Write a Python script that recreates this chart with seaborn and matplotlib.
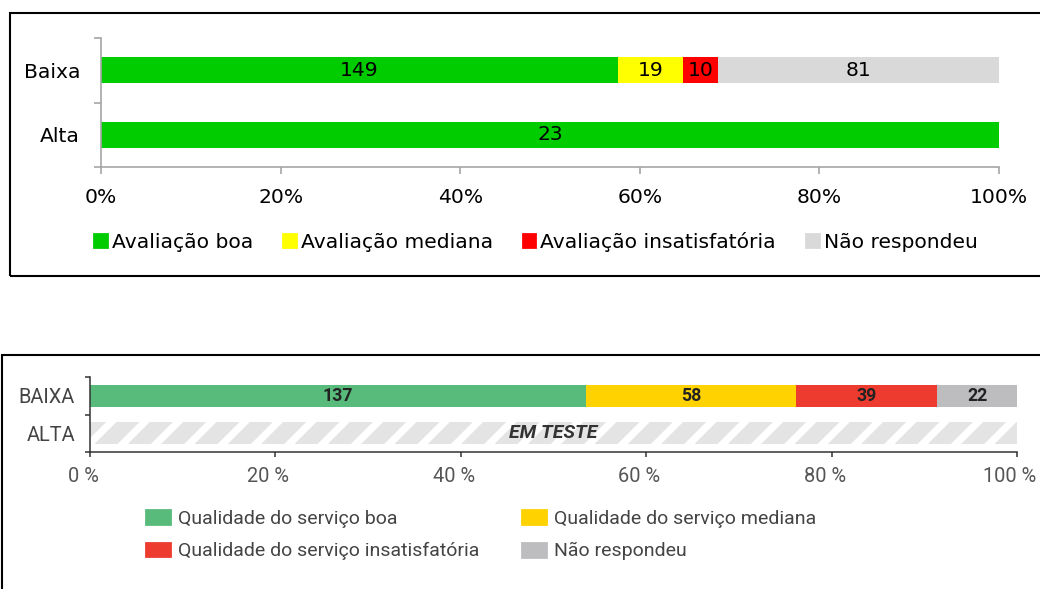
import matplotlib.pyplot as plt
import matplotlib.patches as mpatches
import matplotlib.transforms as mtransforms
from matplotlib import font_manager
import numpy as np
import pandas as pd
import seaborn as sns

# --- dados: painel de cima ---
cats_top = ["Baixa", "Alta"]
series_top = ["Avaliação boa", "Avaliação mediana", "Avaliação insatisfatória", "Não respondeu"]
baixa_top = [149, 19, 10, 81]
alta_top = [23, 0, 0, 0]
cores_top = ["#00CC00", "#FFFF00", "#FF0000", "#D9D9D9"]
ticks_top = ["0%", "20%", "40%", "60%", "80%", "100%"]

# --- dados: painel de baixo ---
cats_bot = ["BAIXA", "ALTA"]
series_bot = ["Qualidade do serviço boa", "Qualidade do serviço mediana",
              "Qualidade do serviço insatisfatória", "Não respondeu"]
baixa_bot = [137, 58, 39, 22]
alta_bot = [0, 0, 0, 0]
em_teste_pct = [0, 100]          # linha ALTA ainda "em teste"
texto_em_teste = "EM TESTE"
cores_bot = ["#58BB7B", "#FFD200", "#EE3B2F", "#BDBDC0"]
ticks_bot = ["0 %", "20 %", "40 %", "60 %", "80 %", "100 %"]
tick_pos = [0, 20, 40, 60, 80, 100]

W, H = 1040, 589

disponiveis = {f.name for f in font_manager.fontManager.ttflist}
fonte_bot = next((f for f in ["Liberation Sans Narrow", "Roboto"] if f in disponiveis), "DejaVu Sans")
fonte_top = "DejaVu Sans"

plt.rcParams["hatch.linewidth"] = 2.6


def barras_empilhadas(ax, cats, linhas, cores, altura, txt_kw):
    df = pd.DataFrame(linhas, index=cats)
    pct = df.div(df.sum(axis=1).replace(0, np.nan), axis=0) * 100
    cum = pct.cumsum(axis=1).fillna(0)
    # desenha do fim para o início para simular empilhamento
    for j in reversed(range(df.shape[1])):
        sns.barplot(x=cum[j].values, y=cats, order=cats, orient="h", color=cores[j],
                    saturation=1, width=altura, linewidth=0, errorbar=None, ax=ax)
    for i, cat in enumerate(cats):
        for j in range(df.shape[1]):
            v = df.loc[cat, j]
            if v > 0:
                ax.text(cum.loc[cat, j] - pct.loc[cat, j] / 2, i, str(v),
                        ha="center", va="center", **txt_kw)


fig = plt.figure(figsize=(W / 200, H / 200), dpi=200)

# ================= painel de cima =================
ax1 = fig.add_axes([101 / W, 1 - 167 / H, 898 / W, 129 / H])
barras_empilhadas(ax1, cats_top, [baixa_top, alta_top], cores_top, 0.40,
                  dict(fontsize=7.3, family=fonte_top, color="black"))
ax1.set_xlim(0, 100)
ax1.set_ylim(1.5, -0.5)
for s in ["top", "right"]:
    ax1.spines[s].set_visible(False)
for s in ["left", "bottom"]:
    ax1.spines[s].set_color("#A6A6A6")
    ax1.spines[s].set_linewidth(0.6)
ax1.set_xticks(tick_pos, labels=ticks_top)
ax1.set_yticks([-0.5, 0.5, 1.5], labels=["", "", ""])
ax1.set_yticks([0, 1], labels=cats_top, minor=True)
ax1.tick_params(axis="both", which="major", color="#A6A6A6", width=0.6, length=2.5,
                labelsize=7.3, labelcolor="black", pad=5)
ax1.tick_params(axis="y", which="minor", length=0, pad=7.5, labelsize=7.3)
ax1.set_xlabel("")
ax1.set_ylabel("")
for t in ax1.get_xticklabels() + ax1.get_yticklabels(minor=True):
    t.set_family(fonte_top)

h_top = [mpatches.Patch(color=c, label=s) for c, s in zip(cores_top, series_top)]
fig.legend(handles=h_top, ncol=4, loc="center", bbox_to_anchor=(536 / W, 1 - 242 / H),
           frameon=False, handlelength=0.6, handleheight=0.6, handletextpad=0.25,
           columnspacing=1.5, borderpad=0, borderaxespad=0,
           prop=dict(family=fonte_top, size=7.3))

fig.add_artist(mpatches.Rectangle((10 / W, 1 - 276 / H), 1.1, (276 - 13) / H,
                                  transform=fig.transFigure, fill=False,
                                  lw=0.75, ec="black"))

# ================= painel de baixo =================
ax2 = fig.add_axes([90 / W, 1 - 452 / H, 927 / W, 75 / H])
sns.barplot(x=em_teste_pct, y=cats_bot, order=cats_bot, orient="h", color="#E4E4E4",
            saturation=1, width=0.58, hatch="//", edgecolor="white", linewidth=0,
            errorbar=None, ax=ax2)
barras_empilhadas(ax2, cats_bot, [baixa_bot, alta_bot], cores_bot, 0.58,
                  dict(fontsize=6.4, family=fonte_bot, color="#222222", weight="bold"))
ax2.text(50, 1, texto_em_teste, ha="center", va="center", fontsize=7.0,
         family=fonte_bot, style="italic", weight="bold", color="#333333")
ax2.set_xlim(0, 100)
ax2.set_ylim(1.5, -0.5)
for s in ["top", "right"]:
    ax2.spines[s].set_visible(False)
for s in ["left", "bottom"]:
    ax2.spines[s].set_color("#333333")
    ax2.spines[s].set_linewidth(0.55)
ax2.set_xticks(tick_pos, labels=ticks_bot)
ax2.set_yticks([-0.5, 0.5, 1.5], labels=["", "", ""])
ax2.set_yticks([0, 1], labels=cats_bot, minor=True)
ax2.tick_params(axis="both", which="major", color="#333333", width=0.55, length=1.8,
                labelsize=7.2, labelcolor="#555555", pad=3.5)
ax2.tick_params(axis="y", which="minor", length=0, pad=5.4, labelsize=7.2,
                labelcolor="#444444")
ax2.set_xlabel("")
ax2.set_ylabel("")
for t in ax2.get_xticklabels() + ax2.get_yticklabels(minor=True):
    t.set_family(fonte_bot)
# no original os rótulos do eixo x ficam um pouco à esquerda das marcas
desloc = mtransforms.ScaledTranslation(-7 / 200, 0, fig.dpi_scale_trans)
for t in ax2.get_xticklabels():
    t.set_transform(t.get_transform() + desloc)

ordem = [0, 2, 1, 3]
h_bot = [mpatches.Patch(color=cores_bot[k], label=series_bot[k]) for k in ordem]
fig.legend(handles=h_bot, ncol=2, loc="center left", bbox_to_anchor=(146 / W, 1 - 535 / H),
           frameon=False, handlelength=1.24, handleheight=0.72, handletextpad=0.4,
           columnspacing=2.2, labelspacing=0.75, borderpad=0, borderaxespad=0,
           labelcolor="#444444", prop=dict(family=fonte_bot, size=7.0))

fig.add_artist(mpatches.Rectangle((2 / W, -0.1), 1.1, (1 - 355 / H) + 0.1,
                                  transform=fig.transFigure, fill=False,
                                  lw=0.75, ec="black"))

fig.savefig("out.png", dpi=200)
